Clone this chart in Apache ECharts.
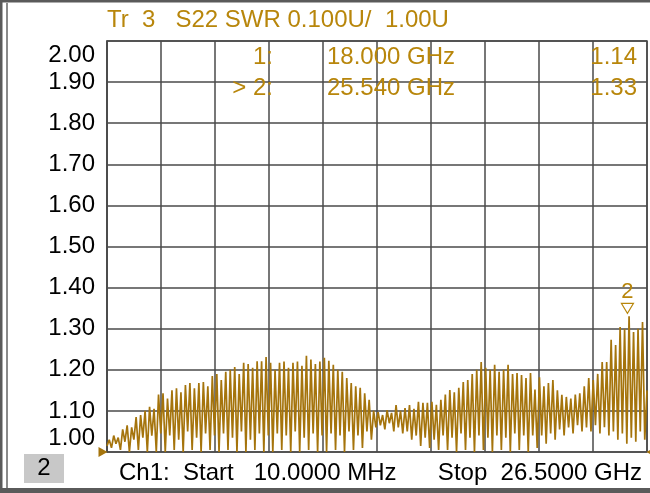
<!DOCTYPE html>
<html>
<head>
<meta charset="utf-8">
<script src="https://cdn.jsdelivr.net/npm/echarts@6/dist/echarts.min.js"></script>
<style>
html,body{margin:0;padding:0;background:#fff;}
#chart{width:650px;height:493px;}
</style>
</head>
<body>
<div id="chart"></div>
<script>
// Sweep
const startGHz = 0.01;
const stopGHz = 26.5;
const yTicks = [1.0, 2.0];
// SWR trace values (peak, trough pairs), one array per horizontal division
const swrStart = [1.015];
const div1 = [1.03,1.01, 1.04,1.02, 1.035,1.005, 1.055,1.025, 1.065,1.0, 1.06,1.03,
              1.085,1.005, 1.09,1.035, 1.10,1.0, 1.11,1.04, 1.105,1.0, 1.14,1.045];
const div2 = [1.143,1.0, 1.13,1.04, 1.15,1.005, 1.155,1.03, 1.145,1.0, 1.163,1.05,
              1.168,1.005, 1.155,1.035, 1.168,1.0, 1.17,1.045, 1.16,1.005, 1.185,1.04];
const div3 = [1.19,1.0, 1.175,1.045, 1.195,1.005, 1.20,1.035, 1.207,1.0, 1.19,1.05,
              1.217,1.0, 1.214,1.03, 1.205,1.005, 1.221,1.045, 1.221,1.0, 1.231,1.04];
const div4 = [1.217,1.0, 1.20,1.045, 1.217,1.005, 1.22,1.04, 1.205,1.0, 1.217,1.05,
              1.22,1.0, 1.21,1.035, 1.234,1.005, 1.225,1.045, 1.214,1.0, 1.22,1.04];
const div5 = [1.229,1.0, 1.222,1.045, 1.212,1.005, 1.20,1.04, 1.195,1.0, 1.18,1.05,
              1.168,1.005, 1.16,1.04, 1.156,1.01, 1.143,1.05, 1.127,1.03, 1.10,1.06];
const div6 = [1.097,1.065, 1.09,1.055, 1.102,1.07, 1.095,1.05, 1.114,1.06, 1.10,1.045,
              1.107,1.05, 1.114,1.03, 1.105,1.04, 1.122,1.015, 1.12,1.035, 1.12,1.01];
const div7 = [1.122,1.03, 1.115,1.005, 1.127,1.04, 1.14,1.005, 1.151,1.035, 1.145,1.0,
              1.156,1.045, 1.17,1.005, 1.175,1.035, 1.19,1.0, 1.20,1.04, 1.219,1.005];
const div8 = [1.205,1.035, 1.20,1.0, 1.212,1.04, 1.195,1.005, 1.20,1.035, 1.212,1.0,
              1.19,1.045, 1.192,1.005, 1.187,1.04, 1.18,1.0, 1.192,1.04, 1.152,1.01];
const div9 = [1.182,1.04, 1.16,1.02, 1.168,1.045, 1.175,1.03, 1.15,1.055, 1.139,1.04,
              1.134,1.06, 1.13,1.045, 1.14,1.065, 1.143,1.05, 1.16,1.06, 1.18,1.05];
const div10 = [1.175,1.065, 1.19,1.045, 1.219,1.06, 1.219,1.04, 1.273,1.05, 1.26,1.03,
               1.304,1.045, 1.30,1.02, 1.33,1.035, 1.292,1.025, 1.30,1.05, 1.316,1.03];
const swrEnd = [1.15];
// Markers
const markerNames = ['1', '2'];
const markerFreqGHz = [18.0, 25.54];
const markerSWR = [1.14, 1.33];

const swr = [].concat(swrStart, div1, div2, div3, div4, div5, div6, div7, div8, div9, div10, swrEnd);
const step = (stopGHz - startGHz) / (swr.length - 1);
const traceData = swr.map((v, i) => [startGHz + i * step, v]);

const GOLD = '#b8860b';
const TRACE = '#a5740c';
const GRID = '#4a4a4a';
const FONT = '"Liberation Sans", Arial, sans-serif';
const FS = 24;

const chart = echarts.init(document.getElementById('chart'), null, {renderer: 'canvas'});

function txt(x, y, text, color, align, size) {
  return {
    type: 'text', x: x, y: y, silent: true, z: 100,
    style: {text: text, fill: color, font: (size || FS) + 'px ' + FONT,
            align: align || 'left', verticalAlign: 'middle',
            textAlign: align || 'left', textVerticalAlign: 'middle'}
  };
}

chart.setOption({
  animation: false,
  backgroundColor: '#ffffff',
  grid: {left: 107, right: 3, top: 41, bottom: 41, show: true, borderColor: GRID, borderWidth: 1.5},
  xAxis: [
    {type: 'value', min: startGHz, max: stopGHz, show: true,
     axisLine: {show: false}, axisTick: {show: false}, axisLabel: {show: false}, splitLine: {show: false}},
    {type: 'value', min: 0, max: 10, interval: 1,
     axisLine: {show: false}, axisTick: {show: false}, axisLabel: {show: false},
     splitLine: {show: true, lineStyle: {color: GRID, width: 1.5}}}
  ],
  yAxis: {
    type: 'value', min: yTicks[0], max: yTicks[1], interval: 0.1,
    axisLine: {show: true, lineStyle: {color: GRID, width: 1.5}},
    axisTick: {show: false},
    splitLine: {show: true, lineStyle: {color: GRID, width: 1.5}},
    axisLabel: {
      margin: 12, color: '#000', fontSize: FS, fontFamily: FONT,
      formatter: function (v) {
        const s = v.toFixed(2);
        if (Math.abs(v - yTicks[1]) < 1e-6) return '{t|' + s + '}';
        if (Math.abs(v - yTicks[0]) < 1e-6) return '{b|' + s + '}';
        return s;
      },
      rich: {
        t: {padding: [28, 0, 0, 0], fontSize: FS, fontFamily: FONT, color: '#000'},
        b: {padding: [0, 0, 28, 0], fontSize: FS, fontFamily: FONT, color: '#000'}
      }
    }
  },
  series: [{
    type: 'line', xAxisIndex: 0, data: traceData, showSymbol: false, symbol: 'none',
    lineStyle: {color: TRACE, width: 1.7}, z: 5, clip: false,
    markPoint: {
      silent: true,
      data: [
        {coord: [markerFreqGHz[1], markerSWR[1]], symbol: 'triangle', symbolRotate: 180,
         symbolSize: [12, 10], symbolOffset: [0, -8],
         itemStyle: {color: '#fff', borderColor: GOLD, borderWidth: 1.2},
         label: {show: true, position: 'top', distance: 0, formatter: markerNames[1],
                 color: GOLD, fontSize: 22, fontFamily: FONT}},
        {coord: [startGHz, yTicks[0]], symbol: 'triangle', symbolRotate: -90,
         symbolSize: [10, 9], symbolOffset: [-4, 0],
         itemStyle: {color: TRACE}, label: {show: false}},
        {coord: [stopGHz, yTicks[0]], symbol: 'triangle', symbolRotate: 90,
         symbolSize: [10, 9], symbolOffset: [4, 0],
         itemStyle: {color: TRACE}, label: {show: false}}
      ]
    }
  }],
  graphic: [
    // frame
    {type: 'rect', silent: true, shape: {x: 0, y: 0, width: 650, height: 2.5}, style: {fill: '#5a5a5a'}},
    {type: 'rect', silent: true, shape: {x: 0, y: 0, width: 2.5, height: 493}, style: {fill: '#5a5a5a'}},
    {type: 'rect', silent: true, shape: {x: 6, y: 3, width: 2, height: 488}, style: {fill: '#8a8a8a'}},
    {type: 'rect', silent: true, shape: {x: 0, y: 488, width: 650, height: 5}, style: {fill: '#5a5a5a'}},
    // title and marker readout
    txt(107, 20, 'Tr  3   S22 SWR 0.100U/  1.00U', GOLD),
    txt(273, 57, '1:', GOLD, 'right'),
    txt(327, 57, markerFreqGHz[0].toFixed(3) + ' GHz', GOLD),
    txt(637, 57, markerSWR[0].toFixed(2), GOLD, 'right'),
    txt(273, 88, '> 2:', GOLD, 'right'),
    txt(327, 88, markerFreqGHz[1].toFixed(3) + ' GHz', GOLD),
    txt(637, 88, markerSWR[1].toFixed(2), GOLD, 'right'),
    // bottom bar
    {type: 'rect', silent: true, shape: {x: 24, y: 454, width: 40, height: 29}, style: {fill: '#c8c8c8'}},
    txt(44, 468, '2', '#000', 'center'),
    txt(119, 473, 'Ch1:  Start   10.0000 MHz', '#000'),
    txt(642, 473, 'Stop  26.5000 GHz', '#000', 'right')
  ]
});
</script>
</body>
</html>
